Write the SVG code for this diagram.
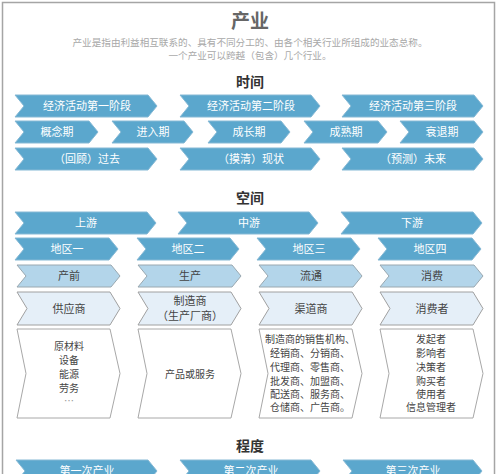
<svg xmlns="http://www.w3.org/2000/svg" width="500" height="474" viewBox="0 0 500 474">
<style>
text{font-family:"Noto Sans CJK SC","Liberation Sans",sans-serif;text-anchor:middle}
.dk{fill:#5ba7cd;stroke:#86b9d5;stroke-width:1}
.lt{fill:#b3d5ea;stroke:#9aa8b0;stroke-width:1}
.pl{fill:#e5eff8;stroke:#a0a0a0;stroke-width:1}
.wh{fill:#ffffff;stroke:#a8a8a8;stroke-width:1}
.tw{fill:#ffffff;font-size:11px}
.tk{fill:#444;font-size:11px}
.tb{fill:#444;font-size:10px}
.h{fill:#333;font-size:14px;font-weight:bold}
</style>
<rect x="0" y="0" width="500" height="474" fill="#ffffff"/>
<rect x="2.5" y="2.5" width="492" height="480" fill="none" stroke="#a5a5a5" stroke-width="1.5"/>
<g id="title">
<text x="250" y="28" style="font-size:19px;font-weight:bold;fill:#666">产业</text>
<text x="250" y="45.5" style="font-size:9.6px;fill:#a8a8a8">产业是指由利益相互联系的、具有不同分工的、由各个相关行业所组成的业态总称。</text>
<text x="250" y="59" style="font-size:9.6px;fill:#a8a8a8">一个产业可以跨越（包含）几个行业。</text>
</g>
<g id="h-time"><text class="h" x="250" y="87">时间</text></g>
<g id="h-space"><text class="h" x="250" y="203">空间</text></g>
<g id="h-degree"><text class="h" x="250" y="451">程度</text></g>
<g id="connectors"></g>
<!-- time row 1 -->
<g id="t1a"><polygon class="dk" points="15,95 148,95 157,106 148,117 15,117 24,106"/><text class="tw" x="87" y="110">经济活动第一阶段</text></g>
<g id="t1b"><polygon class="dk" points="180,95 311,95 320,106 311,117 180,117 189,106"/><text class="tw" x="251" y="110">经济活动第二阶段</text></g>
<g id="t1c"><polygon class="dk" points="342,95 474,95 483,106 474,117 342,117 351,106"/><text class="tw" x="413" y="110">经济活动第三阶段</text></g>
<!-- time row 2 -->
<g id="t2a"><polygon class="dk" points="15,121 89,121 98,132 89,143 15,143 24,132"/><text class="tw" x="57" y="136">概念期</text></g>
<g id="t2b"><polygon class="dk" points="112,121 184,121 193,132 184,143 112,143 121,132"/><text class="tw" x="153" y="136">进入期</text></g>
<g id="t2c"><polygon class="dk" points="208,121 281,121 290,132 281,143 208,143 217,132"/><text class="tw" x="249" y="136">成长期</text></g>
<g id="t2d"><polygon class="dk" points="304,121 378,121 387,132 378,143 304,143 313,132"/><text class="tw" x="346" y="136">成熟期</text></g>
<g id="t2e"><polygon class="dk" points="400,121 474,121 483,132 474,143 400,143 409,132"/><text class="tw" x="442" y="136">衰退期</text></g>
<!-- time row 3 -->
<g id="t3a"><polygon class="dk" points="15,148 148,148 157,159 148,170 15,170 24,159"/><text class="tw" x="87" y="163">（回顾）过去</text></g>
<g id="t3b"><polygon class="dk" points="180,148 311,148 320,159 311,170 180,170 189,159"/><text class="tw" x="251" y="163">（摸清）现状</text></g>
<g id="t3c"><polygon class="dk" points="342,148 474,148 483,159 474,170 342,170 351,159"/><text class="tw" x="413" y="163">（预测）未来</text></g>
<!-- space row A -->
<g id="sa1"><polygon class="dk" points="15,212 147,212 156,223 147,234 15,234 24,223"/><text class="tw" x="86" y="227">上游</text></g>
<g id="sa2"><polygon class="dk" points="178,212 309,212 318,223 309,234 178,234 187,223"/><text class="tw" x="249" y="227">中游</text></g>
<g id="sa3"><polygon class="dk" points="341,212 473,212 482,223 473,234 341,234 350,223"/><text class="tw" x="412" y="227">下游</text></g>
<!-- space row B -->
<g id="sb1"><polygon class="dk" points="15,238 109,238 118,249 109,260 15,260 24,249"/><text class="tw" x="67" y="253">地区一</text></g>
<g id="sb2"><polygon class="dk" points="137,238 230,238 239,249 230,260 137,260 146,249"/><text class="tw" x="188" y="253">地区二</text></g>
<g id="sb3"><polygon class="dk" points="257,238 351,238 360,249 351,260 257,260 266,249"/><text class="tw" x="309" y="253">地区三</text></g>
<g id="sb4"><polygon class="dk" points="378,238 472,238 481,249 472,260 378,260 387,249"/><text class="tw" x="430" y="253">地区四</text></g>
<!-- space row C -->
<g id="sc1"><polygon class="lt" points="17,265 111,265 120,276 111,287 17,287 26,276"/><text class="tk" x="69" y="280">产前</text></g>
<g id="sc2"><polygon class="lt" points="138,265 232,265 241,276 232,287 138,287 147,276"/><text class="tk" x="190" y="280">生产</text></g>
<g id="sc3"><polygon class="lt" points="259,265 353,265 362,276 353,287 259,287 268,276"/><text class="tk" x="311" y="280">流通</text></g>
<g id="sc4"><polygon class="lt" points="380,265 474,265 483,276 474,287 380,287 389,276"/><text class="tk" x="432" y="280">消费</text></g>
<!-- space row D -->
<g id="sd1"><polygon class="pl" points="17,292 110,292 120,308.5 110,325 17,325 27,308.5"/><text class="tk" x="69" y="313">供应商</text></g>
<g id="sd2"><polygon class="pl" points="138,292 231,292 241,308.5 231,325 138,325 148,308.5"/><text class="tk" x="190" y="305">制造商</text><text class="tk" x="190" y="320">（生产厂商）</text></g>
<g id="sd3"><polygon class="pl" points="259,292 352,292 362,308.5 352,325 259,325 269,308.5"/><text class="tk" x="311" y="313">渠道商</text></g>
<g id="sd4"><polygon class="pl" points="380,292 473,292 483,308.5 473,325 380,325 390,308.5"/><text class="tk" x="432" y="313">消费者</text></g>
<!-- space row E -->
<g id="se1"><polygon class="wh" points="17,329 110,329 120,373.5 110,418 17,418 26,373.5"/>
<text class="tb" x="69" y="350">原材料</text><text class="tb" x="69" y="364">设备</text><text class="tb" x="69" y="378">能源</text><text class="tb" x="69" y="392">劳务</text><text class="tb" x="69" y="405" style="fill:#999">…</text></g>
<g id="se2"><polygon class="wh" points="138,329 231,329 241,373.5 231,418 138,418 147,373.5"/><text class="tb" x="190" y="378">产品或服务</text></g>
<g id="se3"><polygon class="wh" points="259,329 352,329 362,373.5 352,418 259,418 268,373.5"/>
<text class="tb" x="310" y="343">制造商的销售机构、</text><text class="tb" x="310" y="357">经销商、分销商、</text><text class="tb" x="310" y="371">代理商、零售商、</text><text class="tb" x="310" y="385">批发商、加盟商、</text><text class="tb" x="310" y="398">配送商、服务商、</text><text class="tb" x="310" y="411">仓储商、广告商。</text></g>
<g id="se4"><polygon class="wh" points="380,329 473,329 483,373.5 473,418 380,418 389,373.5"/>
<text class="tb" x="431" y="343">发起者</text><text class="tb" x="431" y="357">影响者</text><text class="tb" x="431" y="371">决策者</text><text class="tb" x="431" y="385">购买者</text><text class="tb" x="431" y="398">使用者</text><text class="tb" x="431" y="411">信息管理者</text></g>
<!-- degree row -->
<g id="d1"><polygon class="dk" points="16,460 148,460 157,471 148,482 16,482 25,471"/><text class="tw" x="87" y="475">第一次产业</text></g>
<g id="d2"><polygon class="dk" points="180,460 311,460 320,471 311,482 180,482 189,471"/><text class="tw" x="251" y="475">第二次产业</text></g>
<g id="d3"><polygon class="dk" points="343,460 473,460 482,471 473,482 343,482 352,471"/><text class="tw" x="413" y="475">第三次产业</text></g>
</svg>
